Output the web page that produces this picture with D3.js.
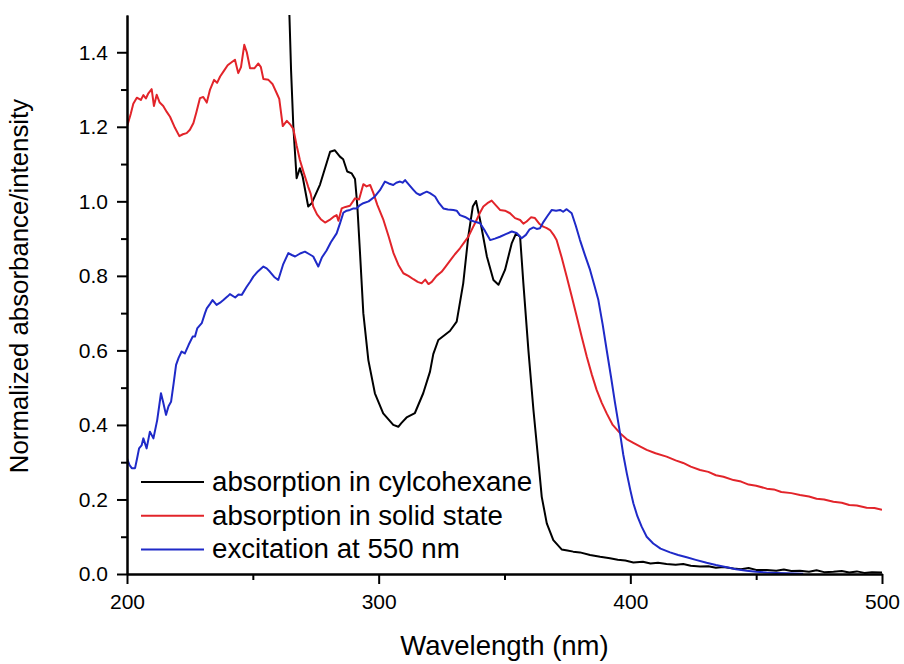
<!DOCTYPE html>
<html>
<head>
<meta charset="utf-8">
<script src="https://cdn.jsdelivr.net/npm/d3@7"></script>
<style>
    body { margin: 0; background: #fff; }
    text { font-family: "Liberation Sans", Arial, sans-serif; fill: #000; }
</style>
</head>
<body>
<script>
// absorption in cyclohexane
var cycloNm = [264, 265.2, 266.1, 267.4, 268.7, 269.8, 272, 273.4, 276.7, 280.7, 282.6, 284.6, 285.9, 287.5, 289.3,
    290.6, 291.5, 292.6, 293.9, 295.9, 298.5, 301.8, 305.8, 307.8, 309, 311.1, 314.4, 317.7, 320.4, 321.7, 323.7,
    328.3, 331, 333.6, 335.6, 337.4, 338.7, 340.3, 343, 345.6, 347.6, 350.2, 352.9, 354.6, 356.2, 357.5, 359.5,
    361.5, 363.5, 364.8, 366.8, 369.4, 372.7, 375, 377.3, 380, 384, 388, 391.9, 395, 398, 401.2, 405, 408, 411,
    414.4, 418, 421, 424, 427.7, 431, 434, 437, 441, 444, 447, 450, 454.2, 458, 461, 464, 467.4, 471, 474, 477,
    480.7, 484, 487, 490, 493, 496, 500];
var cycloAbs = [1.62, 1.35, 1.2, 1.062, 1.089, 1.066, 0.986, 0.995, 1.045, 1.133, 1.137, 1.12, 1.113, 1.08, 1.075,
    1.06, 0.99, 0.86, 0.70, 0.574, 0.485, 0.431, 0.400, 0.395, 0.405, 0.42, 0.432, 0.485, 0.543, 0.59, 0.628,
    0.652, 0.677, 0.78, 0.905, 0.986, 1.001, 0.95, 0.852, 0.789, 0.776, 0.816, 0.888, 0.914, 0.905, 0.78, 0.60,
    0.44, 0.30, 0.207, 0.136, 0.091, 0.066, 0.063, 0.060, 0.058, 0.051, 0.046, 0.042, 0.038, 0.036, 0.031, 0.033,
    0.028, 0.030, 0.027, 0.025, 0.027, 0.022, 0.020, 0.021, 0.017, 0.019, 0.015, 0.013, 0.016, 0.011, 0.011,
    0.009, 0.012, 0.008, 0.009, 0.006, 0.010, 0.005, 0.006, 0.008, 0.004, 0.007, 0.003, 0.005, 0.004];

// absorption in solid state
var solidNm = [200, 201.5, 202.5, 203.9, 205.5, 206.5, 207.5, 208.5, 209.8, 210.7, 211.8, 213, 214.4, 215.8, 217.1,
    219, 220.8, 222.2, 223.7, 225, 226.4, 227.6, 229, 230.3, 231.7, 233, 234.6, 235.8, 237, 238.5, 240, 240.9,
    242.9, 244.2, 245.3, 246.6, 247.6, 248.9, 250.6, 252.2, 253.2, 254.2, 256.2, 257.8, 259.5, 260.5, 261.9,
    263.5, 265, 266.1, 267.4, 268.7, 270.3, 272, 273, 274, 275.5, 277, 278.7, 280.5, 282, 283.3, 284, 285.3,
    286.8, 288.6, 290.6, 292.2, 293.9, 295.2, 296.6, 297.9, 299.5, 301.9, 304, 305.9, 307.8, 309.8, 311.8, 313.8,
    315.5, 317.1, 318.5, 319.8, 321.1, 323, 325, 326.6, 328.3, 330.3, 332.3, 334, 335.6, 337.3, 338.9, 340.3,
    341.6, 343.2, 344.9, 346.5, 348.2, 350.2, 352.2, 354.2, 356.2, 357.5, 358.8, 360.5, 362.1, 363.8, 365.4,
    366.8, 368.1, 369.5, 370.7, 372.7, 374.7, 376.7, 378.7, 380.7, 382.7, 384.7, 386.6, 388.6, 390.6, 393, 395.9,
    398.5, 401.2, 404, 406.5, 410, 414.4, 418, 421, 424, 427.7, 431, 434, 437, 441, 444, 447, 450, 454.2, 457,
    460, 464, 467.4, 471, 474, 477, 480.7, 484, 487, 490, 493.9, 497, 500];
var solidAbs = [1.200, 1.235, 1.262, 1.278, 1.272, 1.285, 1.276, 1.290, 1.301, 1.256, 1.286, 1.265, 1.256, 1.24,
    1.227, 1.198, 1.175, 1.18, 1.183, 1.192, 1.210, 1.24, 1.277, 1.28, 1.265, 1.30, 1.326, 1.318, 1.335, 1.35,
    1.365, 1.370, 1.380, 1.344, 1.36, 1.420, 1.40, 1.357, 1.357, 1.370, 1.36, 1.328, 1.326, 1.315, 1.290, 1.275,
    1.202, 1.216, 1.205, 1.194, 1.15, 1.111, 1.075, 1.039, 1.02, 0.986, 0.965, 0.952, 0.943, 0.950, 0.958, 0.963,
    0.948, 0.981, 0.985, 0.988, 1.008, 1.005, 1.046, 1.04, 1.044, 1.022, 0.99, 0.950, 0.905, 0.861, 0.83, 0.807,
    0.80, 0.791, 0.784, 0.780, 0.79, 0.778, 0.784, 0.80, 0.811, 0.825, 0.840, 0.858, 0.874, 0.89, 0.905, 0.928,
    0.950, 0.97, 0.986, 0.995, 1.002, 0.99, 0.977, 0.975, 0.968, 0.955, 0.950, 0.94, 0.946, 0.957, 0.955, 0.94,
    0.932, 0.928, 0.923, 0.91, 0.896, 0.85, 0.798, 0.745, 0.691, 0.636, 0.583, 0.535, 0.494, 0.46, 0.431, 0.40,
    0.378, 0.362, 0.352, 0.342, 0.333, 0.324, 0.315, 0.305, 0.298, 0.288, 0.279, 0.274, 0.265, 0.261, 0.252,
    0.248, 0.240, 0.237, 0.229, 0.227, 0.220, 0.217, 0.212, 0.208, 0.202, 0.200, 0.194, 0.191, 0.185, 0.184,
    0.178, 0.177, 0.172];

// excitation at 550 nm
var excNm = [200, 201, 201.9, 203.2, 204, 204.8, 205.8, 206.5, 207.8, 209.1, 210.5, 212, 213.5, 214.4, 215.5, 216.5,
    217.5, 218.5, 219.5, 220.5, 221.7, 223, 224.5, 226.1, 227, 227.9, 229.7, 231, 231.7, 233, 234, 235.6, 237,
    238.3, 240, 240.9, 243, 244.3, 245.6, 247.5, 249, 250.2, 252, 254.2, 255.5, 256.8, 258.5, 260.1, 262, 264.1,
    265.5, 266.8, 268.8, 270.7, 272.5, 274, 276, 277.5, 279.3, 281, 283.3, 284.6, 286, 287.3, 288.6, 290, 291.3,
    292.6, 293.9, 296, 298.5, 300.5, 302.5, 304, 305.8, 307, 308.5, 309.5, 310.5, 312, 313.8, 315, 316.4, 317.8,
    319.1, 320.4, 322.4, 324, 325.7, 327.5, 329.7, 331, 332.3, 334.3, 336.3, 338.3, 340.3, 342.3, 344.3, 346.2,
    348.2, 350.5, 352.9, 354.8, 356.8, 358.5, 360, 361.5, 362.8, 364.1, 365.5, 367, 368.8, 370.5, 372.1, 373.3,
    374.7, 376.7, 378.3, 380, 382, 384, 385.7, 387.3, 389, 390.6, 392.3, 393.9, 395.9, 397.2, 398.6, 400, 401.2,
    402.8, 404.5, 406.5, 409.1, 412, 415.8, 419, 422.4, 426, 430.3, 434, 438.3, 442, 446.2, 450, 454.2, 458,
    462.1, 468.7];
var excInt = [0.310, 0.292, 0.284, 0.284, 0.31, 0.337, 0.345, 0.364, 0.337, 0.382, 0.364, 0.413, 0.485, 0.46, 0.427,
    0.45, 0.462, 0.51, 0.561, 0.58, 0.597, 0.592, 0.615, 0.637, 0.637, 0.659, 0.673, 0.70, 0.713, 0.725, 0.735,
    0.722, 0.728, 0.735, 0.745, 0.751, 0.742, 0.750, 0.749, 0.77, 0.785, 0.798, 0.812, 0.825, 0.82, 0.811, 0.797,
    0.789, 0.83, 0.861, 0.856, 0.852, 0.86, 0.865, 0.858, 0.852, 0.825, 0.85, 0.868, 0.89, 0.914, 0.94, 0.970,
    0.975, 0.977, 0.981, 0.981, 0.99, 0.995, 1.00, 1.013, 1.03, 1.053, 1.048, 1.044, 1.05, 1.053, 1.05, 1.057,
    1.045, 1.031, 1.022, 1.017, 1.022, 1.026, 1.022, 1.013, 0.995, 0.981, 0.978, 0.977, 0.975, 0.963, 0.958,
    0.950, 0.945, 0.941, 0.92, 0.896, 0.90, 0.905, 0.912, 0.919, 0.915, 0.901, 0.91, 0.925, 0.930, 0.926, 0.928,
    0.945, 0.96, 0.977, 0.975, 0.977, 0.972, 0.979, 0.968, 0.935, 0.896, 0.855, 0.816, 0.775, 0.735, 0.67, 0.601,
    0.53, 0.46, 0.378, 0.32, 0.270, 0.225, 0.190, 0.155, 0.127, 0.10, 0.082, 0.068, 0.058, 0.051, 0.045, 0.038,
    0.030, 0.024, 0.018, 0.013, 0.009, 0.006, 0.004, 0.003, 0.002, 0.001];

var xMajorTicks = [200, 300, 400, 500];
var xMinorTicks = [250, 350, 450];
var yMajorTicks = [0, 0.2, 0.4, 0.6, 0.8, 1.0, 1.2, 1.4];
var yMinorTicks = [0.1, 0.3, 0.5, 0.7, 0.9, 1.1, 1.3];
var seriesNames = ["absorption in cylcohexane", "absorption in solid state", "excitation at 550 nm"];
var seriesColors = ["#000000", "#e2242a", "#1f2ac8"];

function init(){
    var w = 904;
    var h = 664;
    var left = 127, right = 882, top = 15, bottom = 574;

    var xScale = d3.scaleLinear()
                   .domain([200, 500])
                   .range([left, right]);
    var yScale = d3.scaleLinear()
                   .domain([0, 1.5])
                   .range([bottom, top]);

    var svg = d3.select("body")
                .append("svg")
                .attr("width", w)
                .attr("height", h);

    svg.append("rect").attr("width", w).attr("height", h).attr("fill", "#fff");

    svg.append("clipPath")
       .attr("id", "plot")
       .append("rect")
       .attr("x", left)
       .attr("y", top)
       .attr("width", right - left)
       .attr("height", bottom - top);

    var series = [
        d3.zip(cycloNm, cycloAbs),
        d3.zip(solidNm, solidAbs),
        d3.zip(excNm, excInt)
    ];

    var line = d3.line()
                 .x(function(d) { return xScale(d[0]); })
                 .y(function(d) { return yScale(d[1]); });

    svg.append("g")
       .attr("clip-path", "url(#plot)")
       .selectAll("path")
       .data(series)
       .enter()
       .append("path")
       .attr("d", line)
       .attr("fill", "none")
       .attr("stroke-width", 2)
       .attr("stroke-linejoin", "round")
       .attr("stroke", function(d, i) { return seriesColors[i]; });

    // axes: minor ticks first, then the labelled ones
    var xMinor = svg.append("g")
                    .attr("transform", "translate(0," + bottom + ")")
                    .call(d3.axisBottom(xScale).tickValues(xMinorTicks).tickSize(6).tickSizeOuter(0).tickFormat(""));
    var xAxis = svg.append("g")
                   .attr("transform", "translate(0," + bottom + ")")
                   .call(d3.axisBottom(xScale).tickValues(xMajorTicks).tickSize(10).tickSizeOuter(0).tickPadding(10));
    var yMinor = svg.append("g")
                    .attr("transform", "translate(" + left + ",0)")
                    .call(d3.axisLeft(yScale).tickValues(yMinorTicks).tickSize(6).tickSizeOuter(0).tickFormat(""));
    var yAxis = svg.append("g")
                   .attr("transform", "translate(" + left + ",0)")
                   .call(d3.axisLeft(yScale).tickValues(yMajorTicks).tickSize(10).tickSizeOuter(0)
                           .tickPadding(9).tickFormat(d3.format(".1f")));

    [xMinor, xAxis, yMinor, yAxis].forEach(function(g) {
        g.attr("font-family", null).attr("font-size", 21);
        g.selectAll("path, line").attr("stroke", "#000").attr("stroke-width", 2);
        g.selectAll("text").attr("fill", "#000");
    });

    svg.append("text")
       .attr("x", (left + right) / 2)
       .attr("y", 655)
       .attr("text-anchor", "middle")
       .style("font-size", "27.5px")
       .text("Wavelength (nm)");

    svg.append("text")
       .attr("transform", "translate(28," + 286 + ") rotate(-90)")
       .attr("text-anchor", "middle")
       .style("font-size", "25.8px")
       .text("Normalized absorbance/intensity");

    // legend
    var legend = svg.append("g")
                    .selectAll("g")
                    .data(seriesNames)
                    .enter()
                    .append("g")
                    .attr("transform", function(d, i) { return "translate(141," + (482 + i * 33.7) + ")"; });
    legend.append("line")
          .attr("x1", 0)
          .attr("x2", 63)
          .attr("stroke-width", 2)
          .attr("stroke", function(d, i) { return seriesColors[i]; });
    legend.append("text")
          .attr("x", 71)
          .attr("y", 9)
          .style("font-size", "27.7px")
          .text(function(d) { return d; });
}
window.onload = init;
</script>
</body>
</html>
